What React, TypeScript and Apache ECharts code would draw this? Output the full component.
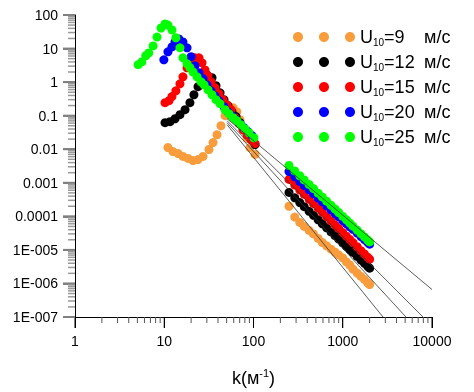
import React, { useEffect, useRef } from "react";
import * as echarts from "echarts";

const xTickLabels = ["1", "10", "100", "1000", "10000"];
const yTickLabels = ["1E-007", "1E-006", "1E-005", "0.0001", "0.001", "0.01", "0.1", "1", "10", "100"];

const seriesNames = ["U10=9 м/с", "U10=12 м/с", "U10=15 м/с", "U10=20 м/с", "U10=25 м/с"];
const speeds = ["9", "12", "15", "20", "25"];
const seriesColors = ["#F89C3C", "#000000", "#FF0000", "#0000FF", "#00FF00"];

// low wavenumber part [k, S]
const u9Low = [[11.0,0.0112],[12.5,0.0085],[14.3,0.0074],[16.2,0.0061],[18.5,0.0053],[21,0.0046],[23.9,0.0049],[27.2,0.0061],[31.7,0.0098],[35.2,0.0158],[39,0.027],[43.2,0.05],[48,0.1],[53,0.141],[59,0.173],[65,0.131],[70.6,0.076],[76.3,0.041],[84.6,0.021],[91.4,0.0112],[104,0.007]];
const u12Low = [[10.2,0.062],[11.6,0.066],[13.2,0.081],[15.0,0.107],[17.1,0.151],[19.4,0.243],[21.5,0.42],[23.9,0.73],[26.5,1.17],[30.1,1.65],[34.3,1.35],[38,0.78],[42.2,0.48],[46.7,0.3],[51.8,0.198],[57.4,0.131],[63.7,0.094],[70.6,0.062],[78.3,0.041],[86.7,0.029],[96.2,0.019],[104,0.0138]];
const u15Low = [[10.2,0.243],[11.3,0.28],[12.2,0.37],[13.5,0.55],[15.0,0.89],[16.2,1.44],[18.0,2.67],[20,4.3],[22.1,5.3],[24.5,5.3],[26.5,3.75],[28.6,2.3],[30.9,1.54],[33.4,1.02],[37,0.68],[41,0.45],[45.5,0.3],[50.5,0.21],[56,0.15],[62,0.087],[68.8,0.058],[76.3,0.038],[84.6,0.027],[93.8,0.019],[104,0.0147]];
const u20Low = [[9.9,4.6],[11.0,8.0],[12.2,11.2],[13.2,15.8],[14.6,19.4],[16.2,15.8],[18.0,10.5],[20,5.7],[22.1,3.05],[24.5,1.9],[27.2,1.26],[30.1,0.83],[33.4,0.55],[37,0.39],[41,0.28],[46.7,0.185],[51.8,0.13],[57.4,0.1],[63.7,0.076],[70.6,0.058],[78,0.044],[86.7,0.0335],[96,0.0255]];
const u25Low = [[5.1,3.3],[5.6,4.0],[6.2,6.1],[6.7,7.4],[7.5,12],[8.3,22],[9.2,41],[10.2,54],[11.0,50],[12.2,36],[13.5,21],[15.0,10.5],[16.2,5.3],[18.0,3.5],[19.4,2.7],[21,2.0],[23.3,1.44],[25.8,1.02],[27.9,0.83],[30.9,0.59],[34.3,0.42],[38,0.3],[42,0.23],[48,0.15],[53,0.115],[59,0.087],[65,0.071],[72,0.054],[80,0.041],[89,0.031],[101,0.022]];

// high wavenumber part: shared k, per-series S
const tailK = [250, 290, 330, 370, 420, 470, 530, 590, 660, 740, 820, 900, 1000, 1100, 1200, 1300, 1450, 1600, 1750, 1900, 2000];
const u9Tail = [2.0e-4, 9.5e-5, 6.6e-5, 5.0e-5, 3.8e-5, 3.0e-5, 2.19e-5, 1.66e-5, 1.32e-5, 1.05e-5, 8.5e-6, 7.1e-6, 5.75e-6, 4.37e-6, 3.55e-6, 2.69e-6, 2.04e-6, 1.62e-6, 1.32e-6, 1.05e-6, 9.3e-7];
const u12Tail = [5.16e-4, 3.57e-4, 2.57e-4, 1.94e-4, 1.41e-4, 1.07e-4, 7.9e-5, 6.0e-5, 4.55e-5, 3.43e-5, 2.65e-5, 2.1e-5, 1.61e-5, 1.27e-5, 1.02e-5, 8.4e-6, 6.4e-6, 5.0e-6, 4.0e-6, 3.24e-6, 2.85e-6];
const u15Tail = [1.26e-3, 8.55e-4, 6.05e-4, 4.5e-4, 3.22e-4, 2.39e-4, 1.75e-4, 1.32e-4, 9.8e-5, 7.3e-5, 5.5e-5, 4.35e-5, 3.29e-5, 2.56e-5, 2.04e-5, 1.65e-5, 1.24e-5, 9.5e-6, 7.55e-6, 6.07e-6, 5.3e-6];
const u20Tail = [2.16e-3, 1.51e-3, 1.1e-3, 8.3e-4, 6.2e-4, 4.7e-4, 3.5e-4, 2.7e-4, 2.04e-4, 1.55e-4, 1.2e-4, 9.7e-5, 7.5e-5, 6.0e-5, 4.9e-5, 4.1e-5, 3.16e-5, 2.5e-5, 2.04e-5, 1.68e-5, 1.48e-5];
const u25Tail = [3.27e-3, 2.26e-3, 1.62e-3, 1.22e-3, 8.9e-4, 6.7e-4, 4.9e-4, 3.76e-4, 2.83e-4, 2.13e-4, 1.64e-4, 1.3e-4, 9.95e-5, 7.85e-5, 6.3e-5, 5.1e-5, 3.9e-5, 3.05e-5, 2.43e-5, 1.97e-5, 1.73e-5];

// fitted power-law lines: [[k0, S0], [k1, S1]]
const fitLineA = [[50.5, 0.0815], [10000, 6.6e-7]];
const fitLineB = [[50.5, 0.071], [7930, 1e-7]];
const fitLineC = [[50.5, 0.062], [5110, 1e-7]];
const fitLineD = [[50.5, 0.054], [2825, 1e-7]];

// decades and minor (logarithmic) tick multipliers
const xMajorTicks = [1, 10, 100, 1000, 10000];
const yMajorTicks = [1e-7, 1e-6, 1e-5, 1e-4, 1e-3, 1e-2, 1e-1, 1, 10, 100];
const minorMultipliers = [2, 3, 4, 5, 6, 7, 8, 9];

const lowParts = [u9Low, u12Low, u15Low, u20Low, u25Low];
const tailParts = [u9Tail, u12Tail, u15Tail, u20Tail, u25Tail];
const fitLines = [fitLineA, fitLineB, fitLineC, fitLineD];

const FONT = "'Liberation Sans', Arial, sans-serif";
const X_MIN = 1;
const X_MAX = 10000;
const Y_MIN = 1e-7;
const Y_MAX = 100;

// three-dot legend icon (cubic bezier circles)
const THREE_DOTS =
  "path://M0,5C0,2.24 2.24,0 5,0C7.76,0 10,2.24 10,5C10,7.76 7.76,10 5,10C2.24,10 0,7.76 0,5Z" +
  "M26,5C26,2.24 28.24,0 31,0C33.76,0 36,2.24 36,5C36,7.76 33.76,10 31,10C28.24,10 26,7.76 26,5Z" +
  "M52,5C52,2.24 54.24,0 57,0C59.76,0 62,2.24 62,5C62,7.76 59.76,10 57,10C54.24,10 52,7.76 52,5Z";

function tickSeries(data: number[][], size: number[], offset: number[], color: string) {
  return {
    type: "scatter",
    symbol: "rect",
    symbolSize: size,
    symbolOffset: offset,
    clip: false,
    silent: true,
    z: 1,
    emphasis: { disabled: true },
    itemStyle: { color, opacity: 1 },
    data,
  };
}

export default function App() {
  const ref = useRef<HTMLDivElement>(null);
  useEffect(() => {
    if (!ref.current) return;
    const chart = echarts.init(ref.current, null, { renderer: "svg" });
    const xMinor = xMajorTicks.slice(0, -1).flatMap((d) => minorMultipliers.map((m) => +(m * d).toPrecision(3)));
    const yMinor = yMajorTicks.slice(0, -1).flatMap((d) => minorMultipliers.map((m) => +(m * d).toPrecision(3)));

    const ticks = [
      tickSeries(xMajorTicks.map((v) => [v, Y_MIN]), [1, 11], [0, 5.5], "#000"),
      tickSeries(xMinor.map((v) => [v, Y_MIN]), [1, 6], [0, 3], "#555"),
      tickSeries(yMajorTicks.map((v) => [X_MIN, v]), [12, 2], [-6, 0], "#808080"),
      tickSeries(yMinor.map((v) => [X_MIN, v]), [7, 1.5], [-3.5, 0], "#9a9a9a"),
    ];

    const scatterSeries = seriesNames.map((name, i) => ({
      type: "scatter",
      name,
      symbol: "circle",
      symbolSize: 9,
      itemStyle: { color: seriesColors[i], opacity: 1 },
      data: [...lowParts[i], ...tailK.map((k, j) => [k, tailParts[i][j]])],
      z: 3,
    }));
    const lineSeries = fitLines.map((pts) => ({
      type: "line",
      data: pts,
      symbol: "none",
      lineStyle: { color: "#333", width: 0.8 },
      z: 4,
      silent: true,
    }));
    chart.setOption({
      animation: false,
      grid: { left: 75, right: 42, top: 15, bottom: 74 },
      legend: {
        data: seriesNames,
        orient: "vertical",
        left: 293,
        top: 28,
        padding: 0,
        itemGap: 6,
        itemWidth: 62,
        itemHeight: 10,
        icon: THREE_DOTS,
        selectedMode: false,
        formatter: (name: string) => {
          const i = seriesNames.indexOf(name);
          return `{u|U}{s|10}{v|=${speeds[i]}}{m|м/с}`;
        },
        textStyle: {
          fontFamily: FONT,
          color: "#000",
          fontSize: 18,
          rich: {
            u: { fontSize: 18, lineHeight: 20, fontFamily: FONT, color: "#000" },
            s: { fontSize: 10, lineHeight: 10, verticalAlign: "bottom", fontFamily: FONT, color: "#000" },
            v: { fontSize: 18, lineHeight: 20, width: 40, fontFamily: FONT, color: "#000" },
            m: { fontSize: 18, lineHeight: 20, fontFamily: FONT, color: "#000" },
          },
        },
      },
      xAxis: {
        type: "log",
        min: X_MIN,
        max: X_MAX,
        interval: 1,
        splitLine: { show: false },
        name: "{k|k(м}{p|-1}{k|)}",
        nameLocation: "middle",
        nameGap: 50,
        nameTextStyle: {
          rich: {
            k: { fontSize: 18, lineHeight: 22, fontFamily: FONT, color: "#000" },
            p: { fontSize: 11, lineHeight: 11, verticalAlign: "top", fontFamily: FONT, color: "#000" },
          },
        },
        axisLine: { show: true, onZero: false, lineStyle: { color: "#000" } },
        axisTick: { show: true, length: 11, lineStyle: { color: "#000", width: 1 } },
        axisLabel: {
          margin: 17,
          fontSize: 14,
          fontFamily: FONT,
          color: "#000",
          formatter: (v: number) => xTickLabels[Math.round(Math.log10(v))],
        },
      },
      yAxis: {
        type: "log",
        min: Y_MIN,
        max: Y_MAX,
        interval: 1,
        splitLine: { show: false },
        axisLine: { show: true, onZero: false, lineStyle: { color: "#000" } },
        axisTick: { show: true, length: 12, lineStyle: { color: "#808080", width: 2 } },
        axisLabel: {
          margin: 17,
          fontSize: 14,
          fontFamily: FONT,
          color: "#000",
          formatter: (v: number) => yTickLabels[Math.round(Math.log10(v)) + 7],
        },
      },
      series: [...ticks, ...scatterSeries, ...lineSeries],
    });
    return () => chart.dispose();
  }, []);
  return <div ref={ref} style={{ position: "fixed", left: 0, top: 0, width: 474, height: 392 }} />;
}
